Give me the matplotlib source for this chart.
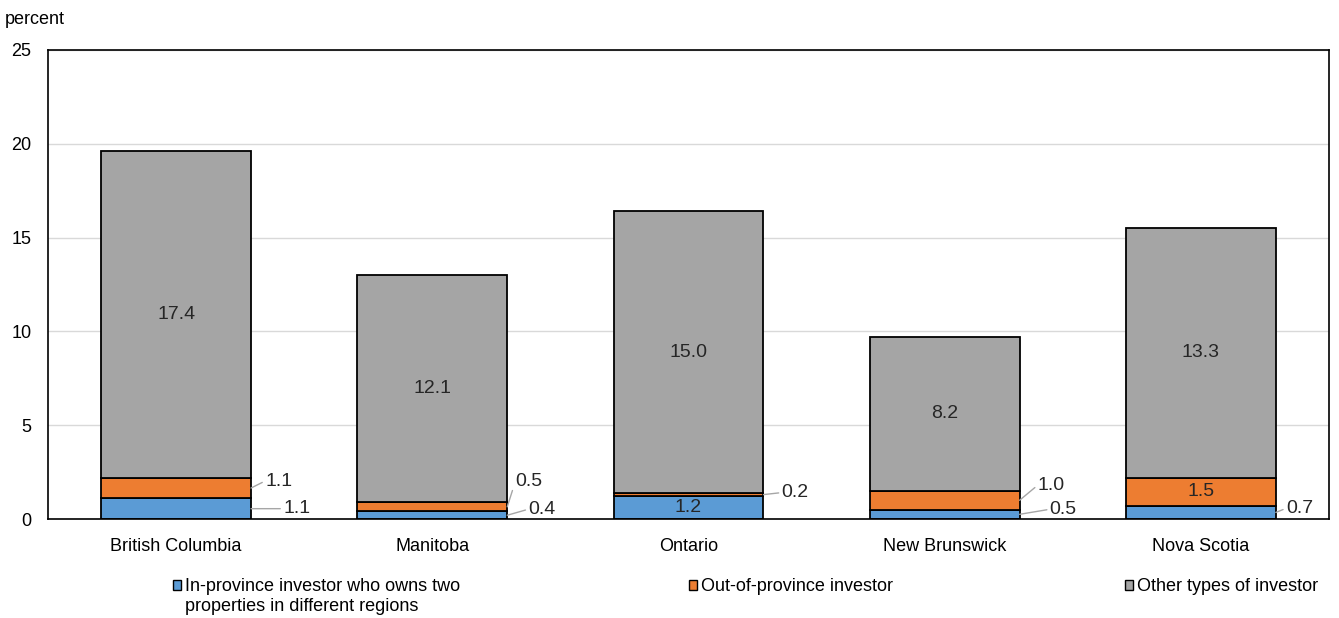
import matplotlib
matplotlib.use("Agg")
import matplotlib.pyplot as plt
from matplotlib.patches import Rectangle
import numpy as np

provinces = ["British Columbia", "Manitoba", "Ontario", "New Brunswick", "Nova Scotia"]
in_province = [1.1, 0.4, 1.2, 0.5, 0.7]
out_of_province = [1.1, 0.5, 0.2, 1.0, 1.5]
other_types = [17.4, 12.1, 15.0, 8.2, 13.3]

series_names = [
    "In-province investor who owns two\nproperties in different regions",
    "Out-of-province investor",
    "Other types of investor",
]
colors = ["#5B9BD5", "#ED7D31", "#A5A5A5"]

# offsets (in pixels) for labels of thin segments drawn beside the bar
outside_offsets = {
    (0, 0): (32, 0), (0, 1): (14, 7),
    (1, 0): (21, 6), (1, 1): (8, 25),
    (2, 1): (18, 2),
    (3, 0): (30, 5), (3, 1): (18, 15),
    (4, 0): (10, 4),
}

plt.rcParams["font.family"] = ["Liberation Sans", "DejaVu Sans"]
FS = 13
W, H = 1339, 618

fig = plt.figure(figsize=(W / 100, H / 100), dpi=100)
ax = fig.add_axes([48 / W, 1 - 519 / H, 1281 / W, 469 / H])

x = np.arange(len(provinces))
width = 0.585
bottom = np.zeros(len(provinces))
for s, vals in enumerate([in_province, out_of_province, other_types]):
    vals = np.array(vals)
    ax.bar(x, vals, width, bottom=bottom, color=colors[s], edgecolor="black",
           linewidth=1.3, zorder=3)
    for i, v in enumerate(vals):
        ymid = bottom[i] + v / 2
        if v >= 1.15:
            ax.text(x[i], ymid, f"{v:.1f}", ha="center", va="center",
                    fontsize=FS + 1, color="#262626", zorder=4)
        else:
            dx, dy = outside_offsets[(i, s)]
            ax.annotate(f"{v:.1f}", xy=(x[i] + width / 2, ymid),
                        xytext=(dx * 0.72, dy * 0.72), textcoords="offset points",
                        ha="left", va="center", fontsize=FS + 1, color="#262626",
                        arrowprops=dict(arrowstyle="-", color="#A6A6A6", lw=1,
                                        shrinkA=0, shrinkB=0, relpos=(0, 0.5)))
    bottom += vals

ax.set_xlim(-0.5, len(provinces) - 0.5)
ax.set_ylim(0, 25)
ax.set_yticks([0, 5, 10, 15, 20, 25])
ax.set_xticks(x)
ax.set_xticklabels(provinces)
ax.tick_params(axis="both", length=0, labelsize=FS, colors="black")
ax.tick_params(axis="x", pad=14)
ax.tick_params(axis="y", pad=12)
ax.yaxis.grid(True, color="#D9D9D9", lw=1, zorder=0)
for sp in ax.spines.values():
    sp.set_color("black")
    sp.set_linewidth(1.2)
ax.spines["bottom"].set_zorder(5)

fig.text(5 / W, 1 - 20 / H, "percent", fontsize=FS, va="center", ha="left")

# legend drawn by hand so the key box sits beside the first text line
legend_x = [173, 689, 1125]
legend_top = 578
for k in range(3):
    fig.add_artist(Rectangle((legend_x[k] / W, 1 - (legend_top + 12) / H),
                             8 / W, 10 / H, transform=fig.transFigure,
                             facecolor=colors[k], edgecolor="black", lw=1))
    fig.text((legend_x[k] + 12) / W, 1 - legend_top / H, series_names[k],
             fontsize=FS, ha="left", va="top", linespacing=1.25)

fig.savefig("out.png", dpi=100)
